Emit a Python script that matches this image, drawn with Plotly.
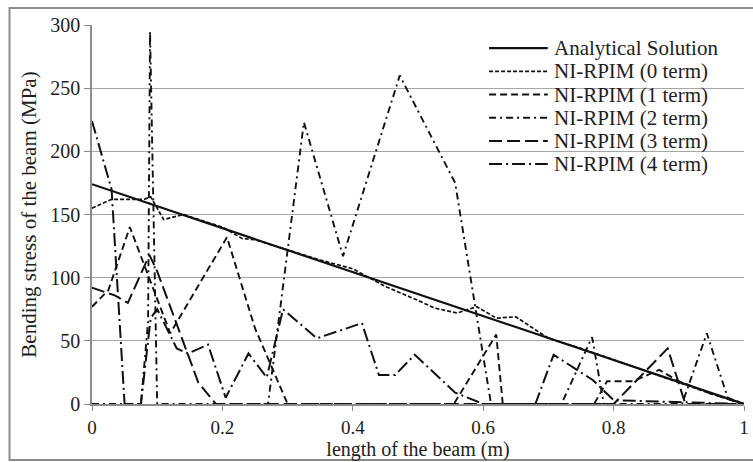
import plotly.graph_objects as go

# ---- data ----
x_an = [0, 1]
y_an = [174, 0]

x_t0 = [0, 0.03, 0.08, 0.09, 0.11, 0.14, 0.2, 0.23, 0.25, 0.3, 0.35, 0.4, 0.45, 0.5, 0.525, 0.56, 0.59, 0.62, 0.65, 0.7, 0.75, 0.8, 0.85, 0.9, 0.95, 1]
y_t0 = [155, 162, 162, 164, 146, 150, 140, 131, 130, 122, 114, 107, 93, 82, 76, 72, 77, 68, 69, 52, 44, 35, 26, 17, 8, 0]

x_t1 = [0, 0.025, 0.058, 0.12, 0.207, 0.25, 0.3, 0.555, 0.62, 0.63, 0.77, 0.79, 0.83, 0.87, 0.9, 0.95, 1]
y_t1 = [77, 90, 140, 56, 132, 60, 0, 0, 55, 0, 0, 18, 18, 27, 18, 8, 0]

x_t2 = [0, 0.075, 0.086, 0.089, 0.1, 0.27, 0.325, 0.385, 0.472, 0.557, 0.612, 0.72, 0.767, 0.785, 0.905, 0.943, 0.975, 1]
y_t2 = [0, 0, 65, 295, 0, 0, 223, 117, 260, 175, 0, 0, 53, 0, 0, 56, 5, 0]

x_t3 = [0, 0.035, 0.055, 0.088, 0.1, 0.163, 0.19, 0.8, 0.883, 0.91, 1]
y_t3 = [92, 86, 80, 118, 105, 17, 0, 0, 44, 0, 0]

x_t4 = [0, 0.03, 0.05, 0.075, 0.09, 0.1, 0.13, 0.147, 0.178, 0.205, 0.24, 0.268, 0.293, 0.345, 0.414, 0.44, 0.465, 0.495, 0.557, 0.6, 0.68, 0.708, 0.768, 0.8, 1]
y_t4 = [224, 170, 0, 0, 68, 75, 44, 40, 47, 5, 40, 21, 75, 52, 64, 23, 23, 39, 9, 0, 0, 39, 19, 3, 0]

names = ["Analytical Solution", "NI-RPIM (0 term)", "NI-RPIM (1 term)",
         "NI-RPIM (2 term)", "NI-RPIM (3 term)", "NI-RPIM (4 term)"]
x_ticks = [0, 0.2, 0.4, 0.6, 0.8, 1]
x_tick_labels = ["0", "0.2", "0.4", "0.6", "0.8", "1"]
y_ticks = [0, 50, 100, 150, 200, 250, 300]

# styles (dash pattern, width) per series
styles = [("solid", 2.2), ("4px,2px", 1.7), ("7px,4px", 1.9),
          ("7px,4px,2px,4px", 1.9), ("13px,5px", 2.0), ("13px,4px,2px,4px", 2.0)]
xs_all = [x_an, x_t0, x_t1, x_t2, x_t3, x_t4]
ys_all = [y_an, y_t0, y_t1, y_t2, y_t3, y_t4]

FONT = "Liberation Serif"
TXT = "#1e1e1e"
FS = 21

fig = go.Figure()
for xs, ys, (dash, w), nm in zip(xs_all, ys_all, styles, names):
    fig.add_trace(go.Scatter(x=xs, y=ys, mode="lines", name=nm, showlegend=False,
                             line=dict(color="#111111", width=w, dash=dash)))

# ---- legend box drawn in paper coordinates (layout only) ----
leg_x0, leg_x1, leg_tx = 0.609, 0.699, 0.706
leg_top, leg_step = 0.939, 0.0612
shapes = [
    dict(type="rect", xref="paper", yref="paper",
         x0=-0.1265, x1=1.02, y0=-0.1478, y1=1.0449,
         line=dict(color="#8c8c8c", width=2), layer="below"),
    dict(type="rect", xref="paper", yref="paper",
         x0=0.598, x1=0.986, y0=0.54, y1=0.98,
         line=dict(width=0), fillcolor="white", layer="between"),
]
annotations = []
for i, (nm, (dash, w)) in enumerate(zip(names, styles)):
    yy = leg_top - i * leg_step
    shapes.append(dict(type="line", xref="paper", yref="paper",
                       x0=leg_x0, x1=leg_x1, y0=yy, y1=yy,
                       line=dict(color="#111111", width=w, dash=dash), layer="above"))
    annotations.append(dict(xref="paper", yref="paper", x=leg_tx, y=yy,
                            text=nm, showarrow=False, xanchor="left", yanchor="middle",
                            font=dict(family=FONT, size=FS, color=TXT)))

fig.update_layout(
    width=753, height=462,
    margin=dict(l=92, r=9, t=25, b=58),
    paper_bgcolor="white", plot_bgcolor="white",
    font=dict(family=FONT, size=FS, color=TXT),
    showlegend=False,
    xaxis=dict(range=[0, 1], tickvals=x_ticks, ticktext=x_tick_labels,
               automargin=False,
               showgrid=False, zeroline=False, showline=True,
               linecolor="#8c8c8c", linewidth=1.5,
               ticks="outside", ticklen=5, tickcolor="#8c8c8c",
               tickfont=dict(family=FONT, size=19, color=TXT),
               title=dict(text="length of the beam (m)", standoff=0,
                          font=dict(family=FONT, size=20, color=TXT))),
    yaxis=dict(range=[0, 300], tickvals=y_ticks,
               automargin=False,
               showgrid=True, gridcolor="#a6a6a6", gridwidth=1,
               zeroline=False, showline=True,
               linecolor="#8c8c8c", linewidth=1.5,
               ticks="outside", ticklen=6, tickcolor="#8c8c8c",
               tickfont=dict(family=FONT, size=20, color=TXT),
               title=dict(text="Bending stress of the beam (MPa)", standoff=8,
                          font=dict(family=FONT, size=FS, color=TXT))),
    shapes=shapes,
    annotations=annotations,
)

fig.write_html("out.html")
